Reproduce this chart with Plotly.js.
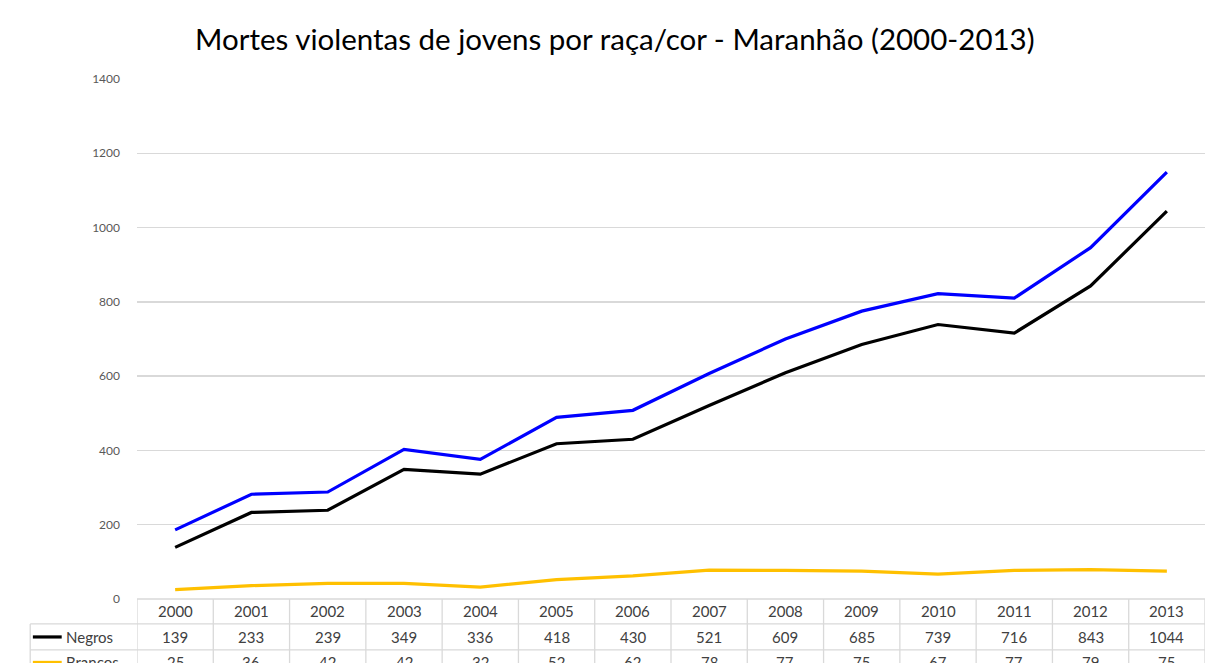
<!DOCTYPE html>
<html>
<head>
<meta charset="utf-8">
<script src="https://cdn.plot.ly/plotly-3.0.1.min.js"></script>
<style>
html,body{margin:0;padding:0;background:#fff;}
#chart{width:1208px;height:663px;}
</style>
</head>
<body>
<div id="chart"></div>
<script>
const years = ["2000","2001","2002","2003","2004","2005","2006","2007","2008","2009","2010","2011","2012","2013"];
const negros = [139,233,239,349,336,418,430,521,609,685,739,716,843,1044];
const brancos = [25,36,42,42,32,52,62,78,77,75,67,77,79,75];
const total = [186,282,288,403,376,489,508,607,700,775,822,810,946,1149];
const yTicks = [0,200,400,600,800,1000,1200,1400];

const FONT = "Lato, 'Open Sans', sans-serif";
const xs = years.map((_, i) => i);

const traces = [
  {x: xs, y: total, type: 'scatter', mode: 'lines', name: 'Total',
   line: {color: '#0000ff', width: 3.2}, hoverinfo: 'y'},
  {x: xs, y: negros, type: 'scatter', mode: 'lines', name: 'Negros',
   line: {color: '#000000', width: 3.2}, hoverinfo: 'y'},
  {x: xs, y: brancos, type: 'scatter', mode: 'lines', name: 'Brancos',
   line: {color: '#ffc000', width: 3.2}, hoverinfo: 'y'}
];

// table geometry (paper units relative to plot area)
const rowB = [0, -0.048, -0.098, -0.147];
const rowC = [-0.024, -0.073, -0.122];
const leftX = -0.1;
const gridC = '#d9d9d9';

const shapes = [];
rowB.forEach(y => shapes.push({type:'line', xref:'x', yref:'paper', x0:-0.5, x1:years.length-0.5, y0:y, y1:y, line:{color:gridC, width:1.3}}));
rowB.slice(1).forEach(y => shapes.push({type:'line', xref:'paper', yref:'paper', x0:leftX, x1:0, y0:y, y1:y, line:{color:gridC, width:1.3}}));
for (let i = 0; i <= years.length; i++) {
  shapes.push({type:'line', xref:'x', yref:'paper', x0:i-0.5, x1:i-0.5, y0:0, y1:rowB[3], line:{color:gridC, width:1.3}});
}
shapes.push({type:'line', xref:'paper', yref:'paper', x0:leftX, x1:leftX, y0:rowB[1], y1:rowB[3], line:{color:gridC, width:1.3}});
shapes.push({type:'line', xref:'paper', yref:'paper', x0:-0.0975, x1:-0.0705, y0:rowC[1], y1:rowC[1], line:{color:'#000000', width:3.2}});
shapes.push({type:'line', xref:'paper', yref:'paper', x0:-0.0975, x1:-0.0705, y0:rowC[2], y1:rowC[2], line:{color:'#ffc000', width:3.2}});

const annotations = [];
const cellFont = {family: FONT, size: 15, color: '#404040'};
years.forEach((yr, i) => {
  annotations.push({x:i, xref:'x', y:rowC[0], yref:'paper', text:yr, showarrow:false, font:cellFont, xanchor:'center', yanchor:'middle'});
  annotations.push({x:i, xref:'x', y:rowC[1], yref:'paper', text:String(negros[i]), showarrow:false, font:cellFont, xanchor:'center', yanchor:'middle'});
  annotations.push({x:i, xref:'x', y:rowC[2], yref:'paper', text:String(brancos[i]), showarrow:false, font:cellFont, xanchor:'center', yanchor:'middle'});
});
annotations.push({x:-0.068, xref:'paper', y:rowC[1], yref:'paper', text:'Negros', showarrow:false, font:cellFont, xanchor:'left', yanchor:'middle'});
annotations.push({x:-0.068, xref:'paper', y:rowC[2], yref:'paper', text:'Brancos', showarrow:false, font:cellFont, xanchor:'left', yanchor:'middle'});

const layout = {
  width: 1208, height: 663,
  margin: {l:137, r:3, t:79, b:64, pad:0},
  paper_bgcolor: '#ffffff', plot_bgcolor: '#ffffff',
  showlegend: false,
  title: {text: 'Mortes violentas de jovens por raça/cor - Maranhão (2000-2013)',
          font: {family: FONT, size: 29.5, color: '#000000'},
          x: 0.509, xanchor: 'center', y: 0.94, yanchor: 'middle'},
  xaxis: {range: [-0.5, years.length - 0.5], showgrid: false, zeroline: false,
          showticklabels: false, showline: false, ticks: '', fixedrange: true},
  yaxis: {range: [0, 1400], tickvals: yTicks, ticktext: yTicks.map(String),
          showgrid: true, gridcolor: gridC, gridwidth: 1.3, zeroline: false,
          showline: false, ticks: '', ticklabelstandoff: 16,
          tickfont: {family: FONT, size: 12, color: '#595959'}, fixedrange: true},
  shapes: shapes,
  annotations: annotations
};

Plotly.newPlot('chart', traces, layout, {displayModeBar: false, staticPlot: true});
</script>
</body>
</html>
